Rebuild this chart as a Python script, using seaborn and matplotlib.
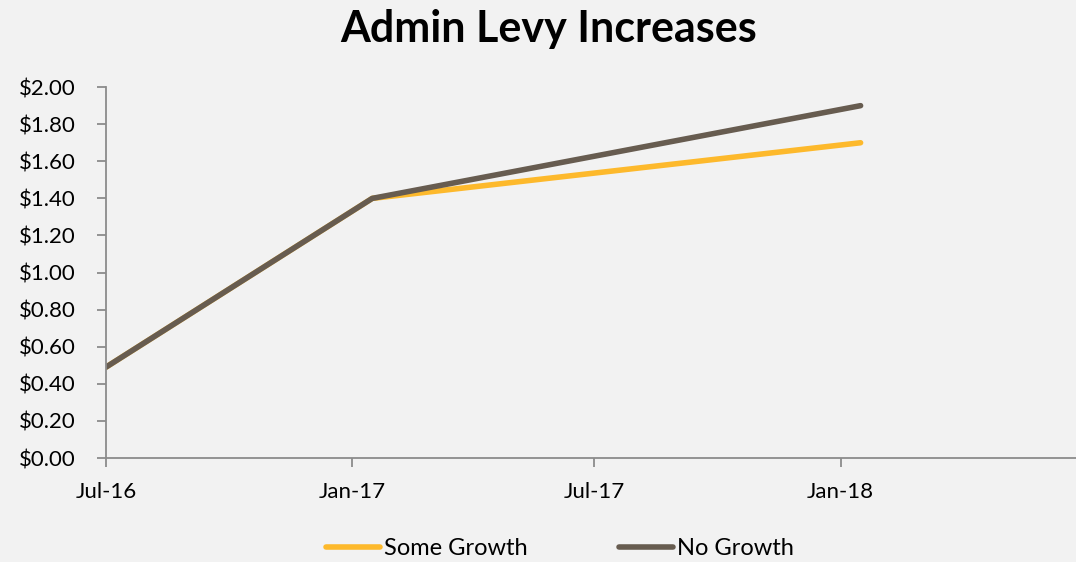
import pandas as pd
import numpy as np
import seaborn as sns
import matplotlib.pyplot as plt
import matplotlib.dates as mdates
from matplotlib.ticker import FuncFormatter

# data
dates = ["2016-07-01", "2017-01-16", "2018-01-16"]
some_growth = [0.49, 1.40, 1.70]
no_growth = [0.49, 1.40, 1.90]
tick_dates = ["2016-07-01", "2017-01-01", "2017-07-01", "2018-01-01"]

df = pd.DataFrame({
    "date": pd.to_datetime(dates * 2),
    "levy": some_growth + no_growth,
    "scenario": ["Some Growth"] * 3 + ["No Growth"] * 3,
})

sns.set_theme(style="white")
plt.rcParams["font.family"] = ["Lato", "DejaVu Sans"]
bg = "#F2F2F2"

fig = plt.figure(figsize=(10.76, 5.62), dpi=100, facecolor=bg)
ax = fig.add_axes([0.0985, 0.185, 0.9015, 0.66], facecolor=bg)

sns.lineplot(data=df, x="date", y="levy", hue="scenario",
             palette={"Some Growth": "#FDB92C", "No Growth": "#675C50"},
             linewidth=4, ax=ax, solid_capstyle="round")

ax.set_ylim(0, 2.0)
ax.set_yticks(np.arange(0, 2.01, 0.2))
ax.yaxis.set_major_formatter(FuncFormatter(lambda v, p: f"${v:.2f}"))
ax.set_xlim(pd.Timestamp("2016-07-01"), pd.Timestamp("2018-06-26"))
ax.set_xticks(pd.to_datetime(tick_dates))
ax.xaxis.set_major_formatter(mdates.DateFormatter("%b-%y"))
ax.set_xlabel(""); ax.set_ylabel("")

for s in ["top", "right"]:
    ax.spines[s].set_visible(False)
for s in ["left", "bottom"]:
    ax.spines[s].set_color("#8C8C8C")
    ax.spines[s].set_linewidth(1.3)
ax.tick_params(axis="both", direction="out", length=6.5, width=1.3,
               color="#8C8C8C", labelsize=16, labelcolor="black",
               bottom=True, left=True)
ax.tick_params(axis="y", pad=15)
ax.tick_params(axis="x", pad=11)

fig.text(0.51, 0.948, "Admin Levy Increases", ha="center", va="center",
         fontsize=31, fontweight="bold", color="black")

handles, labels = ax.get_legend_handles_labels()
ax.legend(handles, labels, loc="center", bbox_to_anchor=(0.468, -0.245),
          ncol=2, frameon=False, fontsize=17, handlelength=2.3,
          handletextpad=0.17, columnspacing=3.85, labelcolor="black",
          borderpad=0.1)

fig.savefig("out.png", dpi=100, facecolor=bg)
